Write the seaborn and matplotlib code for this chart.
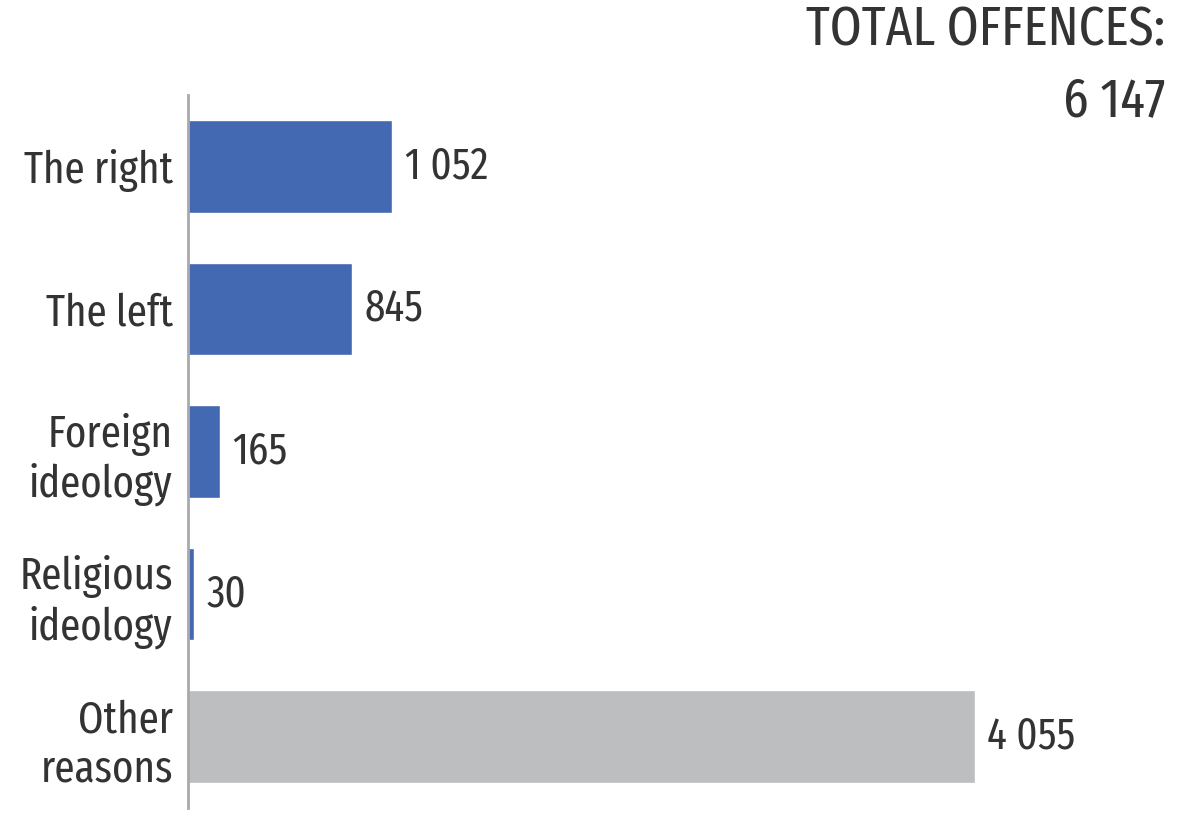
import matplotlib.pyplot as plt
import seaborn as sns
import pandas as pd
from matplotlib import font_manager

categories = ['The right', 'The left', 'Foreign\nideology', 'Religious\nideology', 'Other\nreasons']
values = [1052, 845, 165, 30, 4055]
colors = ['#4369b2', '#4369b2', '#4369b2', '#4369b2', '#bdbec0']
total = 6147

sns.set_style('white')
# pick a condensed face if one is installed
available = set(f.name for f in font_manager.fontManager.ttflist)
wanted = ['Fira Sans Extra Condensed Light', 'Fira Sans Extra Condensed',
          'Fira Sans Condensed', 'Roboto Condensed', 'Liberation Sans Narrow']
picked = [f for f in wanted if f in available][:1]
plt.rcParams['font.family'] = picked + ['DejaVu Sans']
fs, fs_title = (32, 40) if picked else (24, 28)

df = pd.DataFrame({'category': categories, 'value': values})

fig = plt.figure(figsize=(12, 8.21), dpi=100)
ax = fig.add_axes([0.1567, 0.0158, 0.8267, 0.8685])
sns.barplot(data=df, x='value', y='category', hue='category', palette=colors,
            legend=False, width=0.65, ax=ax, saturation=1)

ax.set_xlim(0, 5113)
ax.set_ylim(4.5, -0.5)
ax.set_xlabel('')
ax.set_ylabel('')
ax.set_xticks([])
for s in ['top', 'right', 'bottom']:
    ax.spines[s].set_visible(False)
ax.spines['left'].set_color('#a9a9ab')
ax.spines['left'].set_linewidth(2)
ax.tick_params(axis='y', length=0, pad=11, labelsize=fs, labelcolor='#333333')
for lab in ax.get_yticklabels():
    lab.set_linespacing(1.2)

for i, v in enumerate(values):
    ax.annotate(f'{v:,}'.replace(',', ' '), xy=(v, i), xytext=(9, 0),
                textcoords='offset points', va='center', ha='left',
                fontsize=fs, color='#333333')

fig.text(0.971, 0.995, 'TOTAL OFFENCES:\n' + f'{total:,}'.replace(',', ' '),
         ha='right', va='top', fontsize=fs_title, color='#333333', linespacing=1.4,
         multialignment='right')

fig.savefig('out.png', dpi=100)
